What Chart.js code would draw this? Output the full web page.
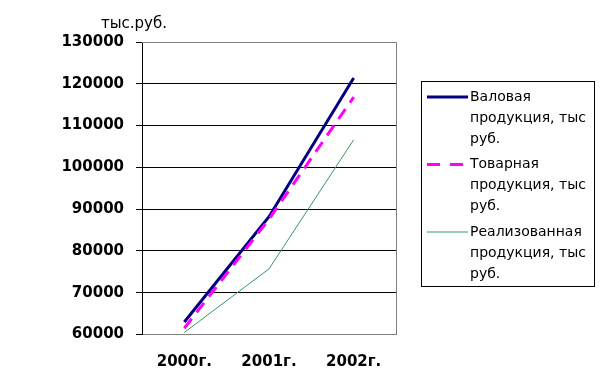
<!DOCTYPE html>
<html>
<head>
<meta charset="utf-8">
<script src="https://cdn.jsdelivr.net/npm/chart.js@4"></script>
<style>
  html, body { margin: 0; padding: 0; background: #fff; }
  #chart { display: block; }
</style>
</head>
<body>
<canvas id="chart" width="604" height="388"></canvas>
<script>
const years = ['2000г.', '2001г.', '2002г.'];
const grossOutput = [63000, 88200, 121400];
const marketOutput = [61500, 87600, 116800];
const soldOutput = [60500, 75700, 106600];
const yTicks = [60000, 70000, 80000, 90000, 100000, 110000, 120000, 130000];
const legendLines = [
    ['Валовая', 'продукция, тыс', 'руб.'],
    ['Товарная', 'продукция, тыс', 'руб.'],
    ['Реализованная', 'продукция, тыс', 'руб.']
];
const unitLabel = 'тыс.руб.';

const FONT = '"DejaVu Sans", sans-serif';

// frame + unit label + legend drawn by hand, Excel style
const excelLook = {
    id: 'excelLook',
    afterDraw(chart) {
        const ctx = chart.ctx;
        const a = chart.chartArea;
        ctx.save();
        // gray top and right border
        ctx.strokeStyle = '#808080';
        ctx.lineWidth = 1;
        ctx.beginPath();
        ctx.moveTo(a.left, Math.round(a.top) + 0.5);
        ctx.lineTo(Math.round(a.right) + 0.5, Math.round(a.top) + 0.5);
        ctx.lineTo(Math.round(a.right) + 0.5, a.bottom);
        ctx.stroke();

        ctx.fillStyle = '#000';
        ctx.font = '15px ' + FONT;
        ctx.textBaseline = 'middle';
        ctx.textAlign = 'left';
        ctx.fillText(unitLabel, 101, 24);

        // legend box
        ctx.strokeStyle = '#000';
        ctx.strokeRect(421.5, 81.5, 173, 205);
        ctx.font = '14px ' + FONT;
        chart.data.datasets.forEach((ds, i) => {
            const y0 = 97 + i * 67.5;
            ctx.save();
            ctx.strokeStyle = ds.borderColor;
            ctx.lineWidth = ds.borderWidth;
            ctx.setLineDash(ds.borderDash ? [13, 10] : []);
            ctx.beginPath();
            ctx.moveTo(427, y0);
            ctx.lineTo(468, y0);
            ctx.stroke();
            ctx.restore();
            legendLines[i].forEach((t, j) => {
                ctx.fillText(t, 470, y0 + j * 21);
            });
        });
        ctx.restore();
    }
};

new Chart(document.getElementById('chart'), {
    type: 'line',
    data: {
        labels: years,
        datasets: [{
            label: legendLines[0].join(' '),
            data: grossOutput,
            borderColor: '#000080',
            borderWidth: 3,
            pointRadius: 0,
            tension: 0,
            order: 1
        }, {
            label: legendLines[1].join(' '),
            data: marketOutput,
            borderColor: '#FF00FF',
            borderWidth: 3,
            borderDash: [12, 8],
            pointRadius: 0,
            tension: 0,
            order: 0
        }, {
            label: legendLines[2].join(' '),
            data: soldOutput,
            borderColor: '#339966',
            borderWidth: 1,
            pointRadius: 0,
            tension: 0,
            order: 2
        }]
    },
    options: {
        responsive: false,
        animation: false,
        layout: { padding: { top: 42, right: 208, left: 0, bottom: 0 } },
        plugins: {
            legend: { display: false },
            tooltip: { enabled: false }
        },
        scales: {
            x: {
                offset: true,
                grid: { display: false, drawTicks: false },
                border: { color: '#808080' },
                ticks: {
                    color: '#000',
                    padding: 19,
                    font: { family: FONT, size: 15, weight: 'bold' }
                },
                afterFit(scale) { scale.height = 53.5; }
            },
            y: {
                min: yTicks[0],
                max: yTicks[yTicks.length - 1],
                afterBuildTicks(scale) { scale.ticks = yTicks.map(v => ({ value: v })); },
                grid: {
                    color: ctx => (ctx.tick && (ctx.tick.value === yTicks[0] || ctx.tick.value === yTicks[yTicks.length - 1])) ? 'rgba(0,0,0,0)' : '#000',
                    tickColor: '#000',
                    tickLength: 6
                },
                border: { color: '#000' },
                ticks: {
                    color: '#000',
                    padding: 12,
                    font: { family: FONT, size: 15, weight: 'bold' },
                    callback: v => String(v)
                },
                afterFit(scale) { scale.width = 142; }
            }
        }
    },
    plugins: [excelLook]
});
</script>
</body>
</html>
